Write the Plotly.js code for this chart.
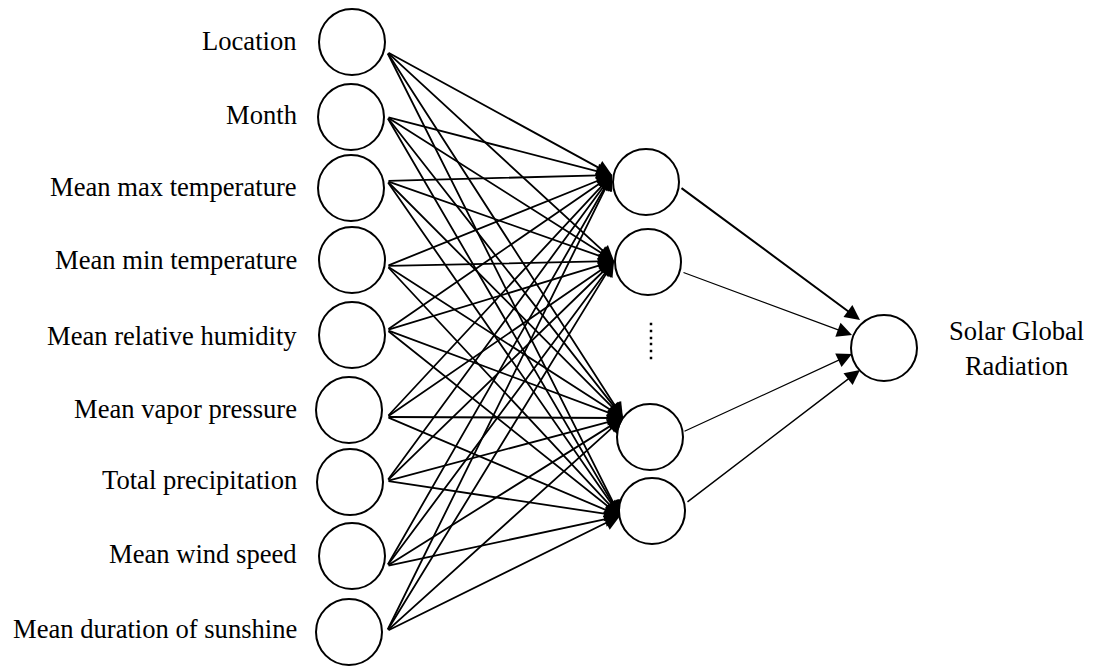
<!DOCTYPE html>
<html>
<head>
<meta charset="utf-8">
<script src="https://cdn.plot.ly/plotly-3.0.1.min.js"></script>
<style>html,body{margin:0;padding:0;background:#fff;}#chart{width:1093px;height:666px;}</style>
</head>
<body>
<div id="chart"></div>
<script>
// ---- content ----
const inputLabels = ["Location", "Month", "Mean max temperature", "Mean min temperature",
  "Mean relative humidity", "Mean vapor pressure", "Total precipitation",
  "Mean wind speed", "Mean duration of sunshine"];
const hiddenNodes = ["h1", "h2", "h3", "h4"];
const outputLabel = ["Solar Global", "Radiation"];

// ---- layout (pixel-space placement) ----
const inX = [352, 351, 351, 352, 352, 349, 350, 352, 349];
const inY = [42, 117, 188, 260, 335, 410, 482, 556, 632];
const inStartX = 387;
const inStartY = [52, 117, 181, 266, 330, 417, 481, 566, 631];
const labelX = 299;
const labelY = [41, 115, 187, 260, 336, 409, 480, 554, 629];
const hidX = [646, 648, 650, 652];
const hidY = [182, 262, 437, 511];
const hidTipX = [612, 614, 623, 620];
const hidTipY = [175, 261, 418, 516];
const hidOutX = [680, 682, 683, 686];
const hidOutY = [187, 272, 432, 503];
const outTipX = [860, 852, 852, 860];
const outTipY = [320, 335, 354, 370];
const outW = [2, 1.2, 1.2, 1.5];
const outX = 884, outY = 348;
const dotX = 651;
const dotY = [324, 331, 338, 344, 351, 358];

const FONT = "'Liberation Serif', 'Times New Roman', serif";
const traces = [];
const nodeMarker = {symbol: "circle", size: 66, color: "#fff", line: {color: "#000", width: 2}};
traces.push({x: inX, y: inY, mode: "markers", type: "scatter", marker: nodeMarker, hoverinfo: "skip"});
traces.push({x: hidX, y: hidY, mode: "markers", type: "scatter", marker: nodeMarker, hoverinfo: "skip"});
traces.push({x: [outX], y: [outY], mode: "markers", type: "scatter", marker: nodeMarker, hoverinfo: "skip"});
traces.push({x: dotY.map(() => dotX), y: dotY, mode: "markers", type: "scatter",
  marker: {symbol: "square", size: 2.5, color: "#000"}, hoverinfo: "skip"});

const ann = [];
inputLabels.forEach((lab, i) => {
  ann.push({x: labelX, y: labelY[i], xref: "x", yref: "y", text: lab, showarrow: false,
    xanchor: "right", yanchor: "middle", font: {family: FONT, size: 26.6, color: "#000"}});
  hiddenNodes.forEach((h, j) => {
    ann.push({x: hidTipX[j], y: hidTipY[j], ax: inStartX, ay: inStartY[i], xref: "x", yref: "y",
      axref: "x", ayref: "y", text: "", showarrow: true, arrowhead: 2, arrowsize: 1.7,
      arrowwidth: 1.8, arrowcolor: "#000", standoff: 0, startstandoff: 0});
  });
});
hiddenNodes.forEach((h, j) => {
  ann.push({x: outTipX[j], y: outTipY[j], ax: hidOutX[j], ay: hidOutY[j], xref: "x", yref: "y",
    axref: "x", ayref: "y", text: "", showarrow: true, arrowhead: 2, arrowsize: 3.0 / outW[j],
    arrowwidth: outW[j], arrowcolor: "#000", standoff: 0, startstandoff: 0});
});
ann.push({x: 1016, y: outY, xref: "x", yref: "y", text: outputLabel.join("<br>"), showarrow: false,
  xanchor: "center", yanchor: "middle", align: "center", font: {family: FONT, size: 26.6, color: "#000"}});

const layout = {
  width: 1093, height: 666, margin: {l: 0, r: 0, t: 0, b: 0},
  paper_bgcolor: "#fff", plot_bgcolor: "#fff", showlegend: false,
  xaxis: {range: [0, 1093], visible: false, fixedrange: true},
  yaxis: {range: [666, 0], visible: false, fixedrange: true},
  annotations: ann
};
Plotly.newPlot("chart", traces, layout, {staticPlot: true, displayModeBar: false});
</script>
</body>
</html>
